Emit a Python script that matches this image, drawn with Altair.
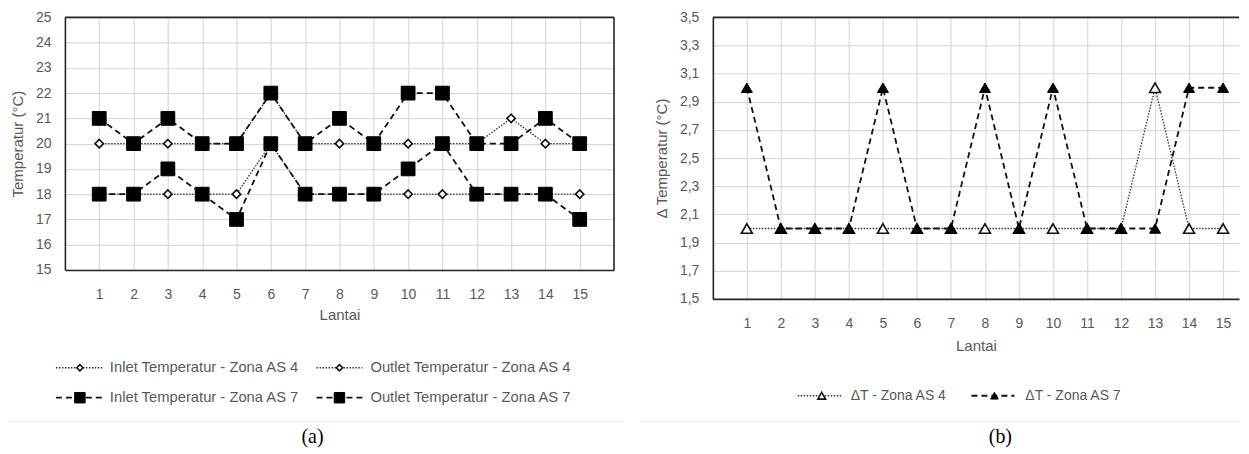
import altair as alt
import pandas as pd

# ---------------- data ----------------
lantai = list(range(1, 16))
inlet_as4 = [20, 20, 20, 20, 20, 22, 20, 20, 20, 20, 20, 20, 21, 20, 20]
outlet_as4 = [18, 18, 18, 18, 18, 20, 18, 18, 18, 18, 18, 18, 18, 18, 18]
inlet_as7 = [21, 20, 21, 20, 20, 22, 20, 21, 20, 22, 22, 20, 20, 21, 20]
outlet_as7 = [18, 18, 19, 18, 17, 20, 18, 18, 18, 19, 20, 18, 18, 18, 17]
dt_as4 = [2, 2, 2, 2, 2, 2, 2, 2, 2, 2, 2, 2, 3, 2, 2]
dt_as7 = [3, 2, 2, 2, 3, 2, 2, 3, 2, 3, 2, 2, 2, 3, 3]

names_a = ["Inlet Temperatur - Zona AS 4", "Outlet Temperatur - Zona AS 4",
           "Inlet Temperatur - Zona AS 7", "Outlet Temperatur - Zona AS 7"]
names_b = ["\u0394T - Zona AS 4", "\u0394T - Zona AS 7"]
y_ticks_a = list(range(15, 26))
y_ticks_b = [1.5, 1.7, 1.9, 2.1, 2.3, 2.5, 2.7, 2.9, 3.1, 3.3, 3.5]
captions = ["(a)", "(b)"]

FONT = "Liberation Sans"
TXT = "#595959"
GRID = "#d9d9d9"
BORDER = "#262626"
DOT = [1.5, 1.5]
DASH = [6, 4]

WA, HA = 550, 253
WB, HB = 527, 282


def long_df(series_names, series_values):
    rows = []
    for n, vals in zip(series_names, series_values):
        for x, v in zip(lantai, vals):
            rows.append({"lantai": x, "value": v, "series": n})
    return pd.DataFrame(rows)


df_a = long_df(names_a, [inlet_as4, outlet_as4, inlet_as7, outlet_as7])
df_b = long_df(names_b, [dt_as4, dt_as7])


def x_enc(domain, title_pad):
    ax = alt.Axis(values=lantai, grid=True, gridColor=GRID, gridWidth=1.2, ticks=False,
                  domain=True, domainColor=BORDER, domainWidth=1.6,
                  labelFont=FONT, labelFontSize=14, labelColor=TXT,
                  labelPadding=18, title="Lantai", titleFont=FONT, titleFontSize=15,
                  titleFontWeight="normal", titleColor=TXT, titlePadding=title_pad)
    return alt.X("lantai:Q", scale=alt.Scale(domain=domain, nice=False, zero=False), axis=ax)


def y_enc(domain, values, title, label_expr=None):
    kw = dict(values=values, grid=True, gridColor=GRID, gridWidth=1.2, ticks=False,
              domain=True, domainColor=BORDER, domainWidth=1.6,
              labelFont=FONT, labelFontSize=14, labelColor=TXT, labelPadding=14,
              title=title, titleFont=FONT, titleFontSize=15, titleFontWeight="normal",
              titleColor=TXT, titlePadding=10)
    if label_expr:
        kw["labelExpr"] = label_expr
    return alt.Y("value:Q", scale=alt.Scale(domain=domain, nice=False, zero=False), axis=alt.Axis(**kw))


def one_row(label=""):
    return pd.DataFrame({"label": [label]})


def legend_entry(label, x0, x1, xm, xt, y, dash, sw, lcolor, point_kw, fsize):
    d = one_row(label)
    line = alt.Chart(d).mark_rule(strokeDash=dash, strokeWidth=sw, color=lcolor).encode(
        x=alt.value(x0), x2=alt.value(x1), y=alt.value(y))
    sym = alt.Chart(d).mark_point(**point_kw).encode(x=alt.value(xm), y=alt.value(y))
    txt = alt.Chart(d).mark_text(align="left", baseline="middle", font=FONT, fontSize=fsize,
                                 color=TXT).encode(x=alt.value(xt), y=alt.value(y), text="label:N")
    return [line, sym, txt]


def caption(label, x, y):
    return alt.Chart(one_row(label)).mark_text(align="center", baseline="middle",
                                               font="Liberation Serif", fontSize=20,
                                               color="#000000").encode(
        x=alt.value(x), y=alt.value(y), text="label:N")


def hline(x0, x1, y, color, width, opacity=1.0):
    return alt.Chart(one_row()).mark_rule(color=color, strokeWidth=width, opacity=opacity).encode(
        x=alt.value(x0), x2=alt.value(x1), y=alt.value(y))


diamond = dict(shape="diamond", filled=True, fill="white", stroke="#111111", strokeWidth=1.6,
               size=70, opacity=1)
square = dict(shape="square", filled=True, fill="black", stroke="black", strokeWidth=1, size=190,
              opacity=1)
tri_open = dict(shape="triangle-up", filled=True, fill="white", stroke="#111111", strokeWidth=1.6,
                size=120, opacity=1)
tri_fill = dict(shape="triangle-up", filled=True, fill="black", stroke="black", strokeWidth=1,
                size=120, opacity=1)

# ---------------- panel (a) ----------------
XA = [0, 16]
YA = [15, 25]
base_a = alt.Chart(df_a)
as4 = names_a[:2]
as7 = names_a[2:]
xa = x_enc(XA, 6)
ya = y_enc(YA, y_ticks_a, "Temperatur (\u00b0C)")

a_layers = [
    base_a.transform_filter(alt.FieldOneOfPredicate(field="series", oneOf=as4)).mark_line(
        strokeDash=DOT, strokeWidth=1.3, color="#333333").encode(x=xa, y=ya, detail="series:N"),
    base_a.transform_filter(alt.FieldOneOfPredicate(field="series", oneOf=as4)).mark_point(
        **diamond).encode(x=xa, y=ya),
    base_a.transform_filter(alt.FieldOneOfPredicate(field="series", oneOf=as7)).mark_line(
        strokeDash=DASH, strokeWidth=1.8, color="#111111").encode(x=xa, y=ya, detail="series:N"),
    base_a.transform_filter(alt.FieldOneOfPredicate(field="series", oneOf=as7)).mark_point(
        **square).encode(x=xa, y=ya),
    hline(0, WA, 0, BORDER, 1.6),
    alt.Chart(one_row()).mark_rule(color=BORDER, strokeWidth=1.6).encode(
        x=alt.value(WA), y=alt.value(0), y2=alt.value(HA)),
]
a_layers += legend_entry(names_a[0], -9, 38, 15, 45, 351, DOT, 1.3, "#333333", diamond | {"size": 40}, 14.8)
a_layers += legend_entry(names_a[1], 252, 298, 275, 306, 351, DOT, 1.3, "#333333", diamond | {"size": 40}, 14.8)
a_layers += legend_entry(names_a[2], -9, 38, 15, 45, 381, DASH, 1.8, "#111111", square | {"size": 110}, 14.8)
a_layers += legend_entry(names_a[3], 252, 298, 275, 306, 381, DASH, 1.8, "#111111", square | {"size": 110}, 14.8)
a_layers += [hline(-56, WA + 10, 405, "#eeeeee", 1), caption(captions[0], 248, 420),
             hline(-56, -55, -8, "white", 1, 0.0)]  # invisible layout anchor

panel_a = alt.layer(*a_layers).properties(width=WA, height=HA)

# ---------------- panel (b) ----------------
XB = [0, WB / 34.07]
YB = [1.5, 3.5]
base_b = alt.Chart(df_b)
comma = "replace(format(datum.value, '.1f'), '.', ',')"
xb = x_enc(XB, 8)
yb = y_enc(YB, y_ticks_b, "\u0394 Temperatur (\u00b0C)", comma)

b_layers = [
    base_b.transform_filter(alt.datum.series == names_b[0]).mark_line(
        strokeDash=DOT, strokeWidth=1.3, color="#333333").encode(x=xb, y=yb),
    base_b.transform_filter(alt.datum.series == names_b[0]).mark_point(**tri_open).encode(x=xb, y=yb),
    base_b.transform_filter(alt.datum.series == names_b[1]).mark_line(
        strokeDash=DASH, strokeWidth=1.8, color="#111111").encode(x=xb, y=yb),
    base_b.transform_filter(alt.datum.series == names_b[1]).mark_point(**tri_fill).encode(x=xb, y=yb),
    hline(0, WB, 0, BORDER, 1.6),
]
b_layers += legend_entry(names_b[0], 85, 130, 109, 138, 379, DOT, 1.3, "#333333", tri_open | {"size": 60}, 14)
b_layers += legend_entry(names_b[1], 259, 302, 282, 313, 379, DASH, 1.8, "#111111", tri_fill | {"size": 60}, 14)
b_layers += [hline(-73, WB, 405, "#eeeeee", 1), caption(captions[1], 288, 420)]

panel_b = alt.layer(*b_layers).properties(width=WB, height=HB)

chart = alt.hconcat(panel_a, panel_b, spacing=99, bounds="flush").properties(
    padding={"left": 0, "top": 0, "right": 0, "bottom": 0}, background="white"
).configure_view(stroke="transparent")

chart.save("out.html", embed_options={"renderer": "svg", "actions": False})
